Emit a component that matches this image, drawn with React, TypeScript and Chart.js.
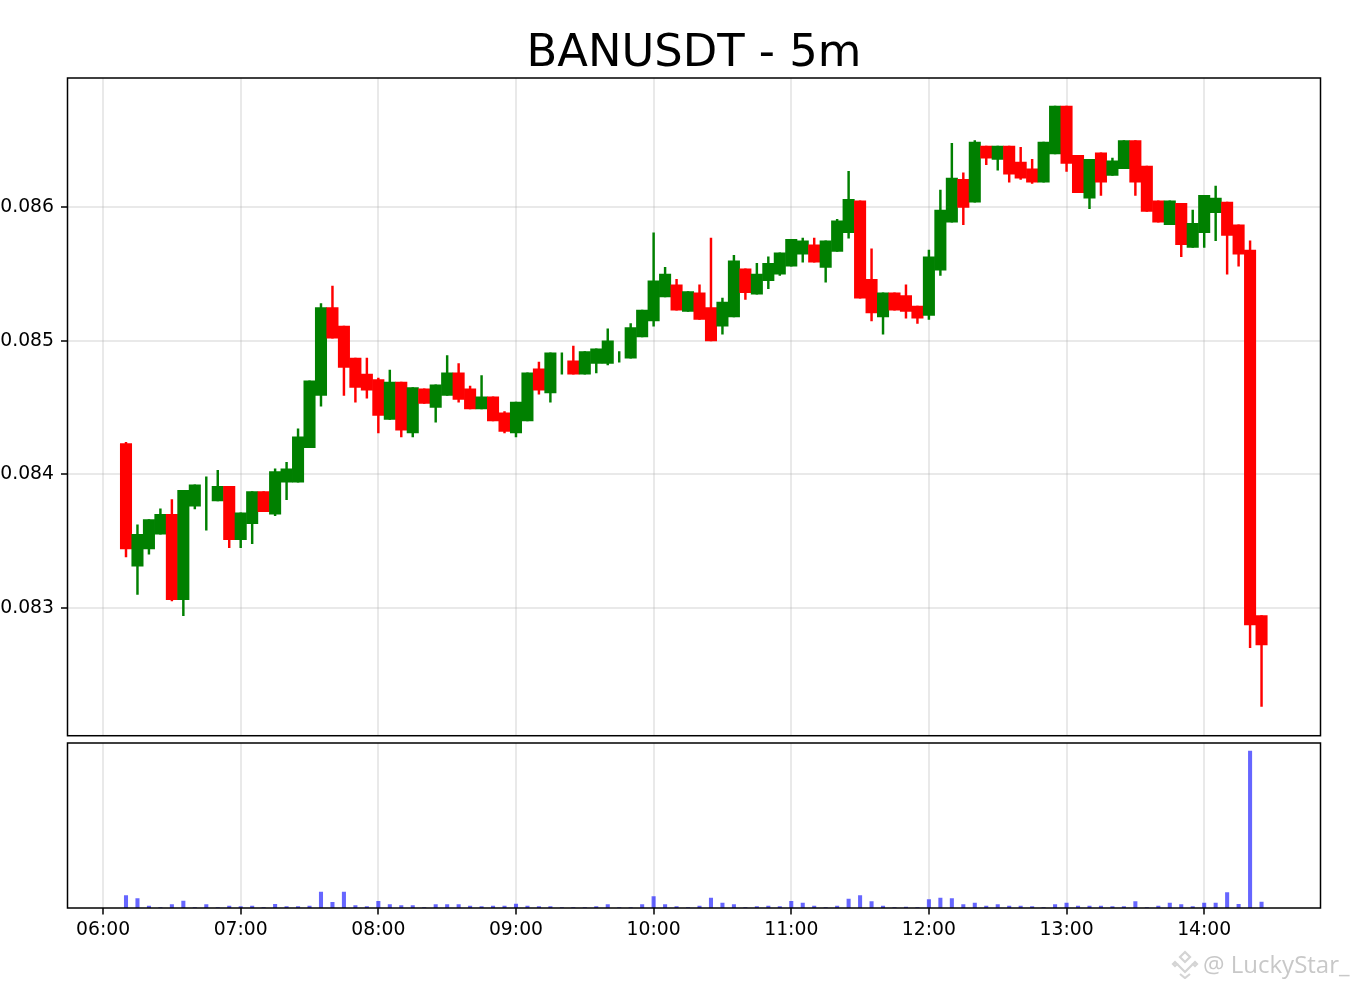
import React, { useEffect, useRef } from "react";
import { Chart, registerables } from "chart.js";
Chart.register(...registerables);

const times = ["06:10","06:15","06:20","06:25","06:30","06:35","06:40","06:45","06:50","06:55",
"07:00","07:05","07:10","07:15","07:20","07:25","07:30","07:35","07:40","07:45","07:50","07:55",
"08:00","08:05","08:10","08:15","08:20","08:25","08:30","08:35","08:40","08:45","08:50","08:55",
"09:00","09:05","09:10","09:15","09:20","09:25","09:30","09:35","09:40","09:45","09:50","09:55",
"10:00","10:05","10:10","10:15","10:20","10:25","10:30","10:35","10:40","10:45","10:50","10:55",
"11:00","11:05","11:10","11:15","11:20","11:25","11:30","11:35","11:40","11:45","11:50","11:55",
"12:00","12:05","12:10","12:15","12:20","12:25","12:30","12:35","12:40","12:45","12:50","12:55",
"13:00","13:05","13:10","13:15","13:20","13:25","13:30","13:35","13:40","13:45","13:50","13:55",
"14:00","14:05","14:10","14:15","14:20","14:25"];

const opens = [0.08423,0.08331,0.08344,0.08355,0.0837,0.08306,0.08376,0.0838,0.0838,0.08391,
0.08351,0.08363,0.08387,0.0837,0.08394,0.08394,0.0842,0.08459,0.08525,0.08511,
0.08487,0.08475,0.08471,0.08441,0.08469,0.08431,0.08464,0.0845,0.08459,0.08476,
0.08464,0.08449,0.08458,0.08446,0.08431,0.0844,0.08479,0.08461,0.08483,0.08485,
0.08475,0.08483,0.08483,0.08488,0.08487,0.08503,0.08515,0.08533,0.08542,0.08522,
0.08536,0.08525,0.08511,0.08518,0.08554,0.08535,0.08545,0.0855,0.08556,0.08565,
0.08572,0.08555,0.08567,0.08581,0.08605,0.08546,0.08518,0.08536,0.08534,0.08526,
0.08519,0.08553,0.08589,0.08621,0.08604,0.08646,0.08636,0.08646,0.08634,0.08629,
0.08619,0.0864,0.08676,0.08639,0.08607,0.08641,0.08624,0.08629,0.0865,0.08631,
0.08605,0.08587,0.08603,0.0857,0.08581,0.08596,0.08604,0.08587,0.08568,0.08294];

const highs = [0.08424,0.08362,0.08366,0.08374,0.08381,0.08388,0.08392,0.08398,0.08403,0.08391,
0.08371,0.08387,0.08387,0.08404,0.08409,0.08434,0.0847,0.08528,0.08541,0.08511,
0.08487,0.08487,0.08472,0.08478,0.08469,0.08465,0.08464,0.08467,0.08489,0.08483,
0.08466,0.08474,0.08458,0.08447,0.08454,0.08476,0.08484,0.08491,0.08491,0.08496,
0.08492,0.08494,0.08509,0.08492,0.08513,0.08523,0.08581,0.08555,0.08546,0.08537,
0.08542,0.08577,0.08532,0.08564,0.08554,0.08558,0.08563,0.08566,0.08576,0.08577,
0.08577,0.08575,0.08591,0.08627,0.08605,0.08569,0.08536,0.08536,0.08542,0.08526,
0.08568,0.08613,0.08648,0.08626,0.0865,0.08646,0.08646,0.08646,0.08645,0.08636,
0.08649,0.08676,0.08676,0.08639,0.08636,0.08641,0.08637,0.0865,0.0865,0.08631,
0.08605,0.08605,0.08603,0.08598,0.08609,0.08616,0.08604,0.08587,0.08575,0.08294];

const lows = [0.08338,0.0831,0.0834,0.08355,0.08305,0.08294,0.08374,0.08358,0.0838,0.08345,
0.08345,0.08348,0.08372,0.08369,0.08381,0.08394,0.0842,0.08451,0.08502,0.08459,
0.08454,0.08457,0.08431,0.08441,0.08428,0.08428,0.08453,0.08439,0.08459,0.08454,
0.08449,0.08449,0.0844,0.08431,0.08428,0.0844,0.0846,0.08454,0.08475,0.08475,
0.08475,0.08476,0.08482,0.08484,0.08487,0.08503,0.08511,0.08533,0.08523,0.08522,
0.08516,0.085,0.08505,0.08518,0.08531,0.08535,0.08539,0.08549,0.08556,0.08559,
0.08559,0.08544,0.08567,0.08577,0.08532,0.08515,0.08505,0.08523,0.08517,0.08513,
0.08516,0.08549,0.08589,0.08587,0.08604,0.08632,0.08628,0.08619,0.08621,0.08618,
0.08619,0.0864,0.08627,0.08611,0.08599,0.08609,0.08624,0.08629,0.08609,0.08597,
0.08589,0.08587,0.08563,0.0857,0.0857,0.08575,0.0855,0.08556,0.0827,0.08226];

const closes = [0.08344,0.08355,0.08366,0.0837,0.08306,0.08388,0.08392,0.0838,0.08391,0.08351,
0.08371,0.08387,0.08372,0.08402,0.08404,0.08428,0.0847,0.08525,0.08502,0.0848,
0.08465,0.08463,0.08444,0.08469,0.08433,0.08465,0.08453,0.08467,0.08476,0.08456,
0.08449,0.08458,0.0844,0.08432,0.08454,0.08476,0.08463,0.08491,0.08483,0.08475,
0.08492,0.08494,0.085,0.08488,0.0851,0.08523,0.08545,0.0855,0.08523,0.08537,
0.08516,0.085,0.08529,0.0856,0.08536,0.0855,0.08558,0.08566,0.08576,0.08575,
0.08559,0.08575,0.0859,0.08606,0.08532,0.08521,0.08536,0.08523,0.08522,0.08517,
0.08563,0.08598,0.08622,0.086,0.08649,0.08637,0.08646,0.08625,0.08622,0.08619,
0.08649,0.08676,0.08633,0.08611,0.08636,0.08619,0.08635,0.0865,0.08619,0.08597,
0.08589,0.08605,0.08572,0.08588,0.08609,0.08607,0.08579,0.08565,0.08287,0.08272];

const volumes = [12.3,9.3,2,0.3,3.3,7,0.3,3.3,0.5,2,1.3,2,0.3,3.6,1.3,1.3,2,16,5.7,16,
2.3,1.3,6.7,3.3,2.3,2.3,0.3,3.3,3.3,3.3,2,1.3,2,2,4,2,1.3,1.3,0.3,0.3,
0.3,1.3,3.3,0.3,0.3,3.3,11.3,3.3,1.3,0.3,2,10,5,3.3,0.3,1.3,2,1.3,6.7,5,
2,0.3,2,9,12.3,6.3,2,0.3,1,0.3,8.3,10,9.3,3.3,5,2,3.3,2,2,1.3,
0.3,3.3,5,2,2,2,1.3,1.3,6.3,0.3,2,5,3.3,1.3,5,5,15.3,3.7,157,6];

const hourLabels = ["06:00","07:00","08:00","09:00","10:00","11:00","12:00","13:00","14:00"];
const priceTicks = [0.083,0.084,0.085,0.086];

const toMin = (t: string) => { const [h, m] = t.split(":").map(Number); return h * 60 + m; };
const X_MIN = 344.5, X_MAX = 890.7;
const UP = "#008000", DOWN = "#ff0000";
const colors = opens.map((o, i) => (closes[i] >= o ? UP : DOWN));
const GRID = "rgba(176,176,176,0.28)";
const FONT = "'DejaVu Sans'";

const frame = {
  id: "frame",
  afterDraw(c: any) {
    const { left, top, width, height } = c.chartArea;
    const g = c.ctx; g.save(); g.strokeStyle = "#000"; g.lineWidth = 1.5;
    g.strokeRect(left, top, width, height); g.restore();
  },
};

const xBase = (showLabels: boolean, h: number) => ({
  type: "linear", min: X_MIN, max: X_MAX, offset: false,
  afterBuildTicks: (s: any) => { s.ticks = hourLabels.map((l) => ({ value: toMin(l) })); },
  afterFit: (s: any) => { s.height = h; },
  grid: { offset: false, color: GRID, lineWidth: 2, drawTicks: showLabels, tickLength: 6.5, tickColor: "#000", tickWidth: 1.5 },
  border: { display: false },
  ticks: {
    display: showLabels, autoSkip: false, maxRotation: 0, padding: 4, color: "#000",
    font: { family: FONT, size: 18.8 },
    callback: (v: number) => hourLabels.find((l) => toMin(l) === v) ?? "",
  },
});

export default function App() {
  const topRef = useRef<HTMLCanvasElement>(null);
  const botRef = useRef<HTMLCanvasElement>(null);
  useEffect(() => {
    document.body.style.margin = "0";
    const xs = times.map(toMin);
    const top = new Chart(topRef.current!, {
      type: "bar",
      data: {
        datasets: [
          { label: "wick", data: xs.map((x, i) => ({ x, y: [lows[i], highs[i]] })), backgroundColor: colors, barThickness: 1.8, order: 2, grouped: false },
          { label: "body", data: xs.map((x, i) => ({ x, y: opens[i] === closes[i] ? null : [opens[i], closes[i]] })), backgroundColor: colors, barThickness: 11.4, order: 1, grouped: false },
        ] as any,
      },
      options: {
        animation: false, responsive: false, devicePixelRatio: 1,
        layout: { padding: { left: 0, right: 37.5, top: 0, bottom: 0 } },
        plugins: {
          legend: { display: false }, tooltip: { enabled: false },
          title: { display: true, text: "BANUSDT - 5m", color: "#000", fullSize: false,
            font: { family: FONT, size: 44.8, weight: "normal", lineHeight: 1 }, padding: { top: 32, bottom: 1.2 } },
        },
        scales: {
          x: xBase(false, 0) as any,
          y: {
            min: 0.08204, max: 0.08697,
            afterBuildTicks: (s: any) => { s.ticks = priceTicks.map((value) => ({ value })); },
            afterFit: (s: any) => { s.width = 67.5; },
            grid: { color: GRID, lineWidth: 2, drawTicks: true, tickLength: 6.5, tickColor: "#000", tickWidth: 1.5 },
            border: { display: false },
            ticks: { color: "#000", padding: 7, font: { family: FONT, size: 18.8 }, callback: (v: any) => Number(v).toFixed(3) },
          } as any,
        },
      },
      plugins: [frame],
    });
    const bot = new Chart(botRef.current!, {
      type: "bar",
      data: { datasets: [{ label: "volume", data: xs.map((x, i) => ({ x, y: volumes[i] })), backgroundColor: "rgba(0,0,255,0.6)", barThickness: 3.4 }] as any },
      options: {
        animation: false, responsive: false, devicePixelRatio: 1,
        layout: { padding: { left: 67.5, right: 37.5, top: 5, bottom: 0 } },
        plugins: { legend: { display: false }, tooltip: { enabled: false } },
        scales: {
          x: xBase(true, 81) as any,
          y: { display: false, min: 0, max: 165 },
        },
      },
      plugins: [frame],
    });
    return () => { top.destroy(); bot.destroy(); };
  }, []);
  return (
    <div style={{ position: "relative", width: 1358, height: 989, background: "#fff", overflow: "hidden" }}>
      <canvas ref={topRef} width={1358} height={754} style={{ position: "absolute", left: 0, top: 0 }} />
      <canvas ref={botRef} width={1358} height={251} style={{ position: "absolute", left: 0, top: 738 }} />
      <svg width="30" height="30" viewBox="0 0 30 30" style={{ position: "absolute", left: 1170, top: 949 }}>
        <g fill="none" stroke="#d4d4d4" strokeWidth="2.2">
          <path d="M15 3l5 5-5 5-5-5z" /><path d="M7 15l8 8 8-8" /><path d="M3 15l2-2 2 2-2 2z" /><path d="M23 15l2-2 2 2-2 2z" /><path d="M10 25l5 4 5-4" />
        </g>
      </svg>
      <div style={{ position: "absolute", left: 1203, top: 947, font: "24px 'Open Sans'", color: "#c8c8c8", whiteSpace: "nowrap" }}>@ LuckyStar_</div>
    </div>
  );
}
